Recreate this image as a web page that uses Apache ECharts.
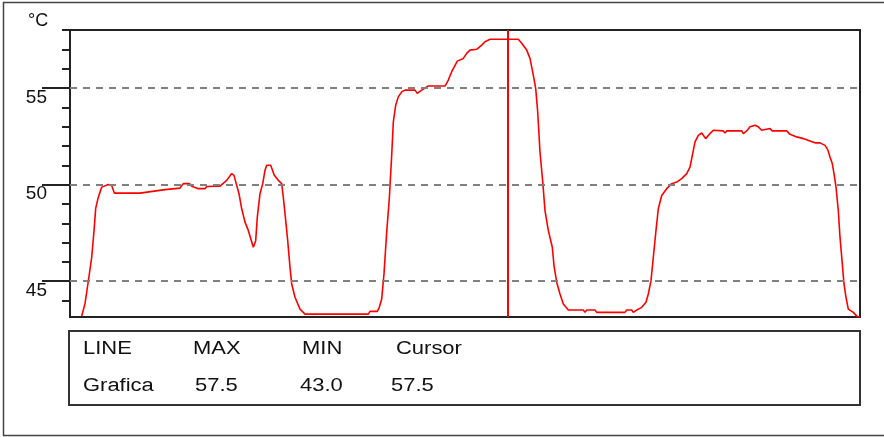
<!DOCTYPE html>
<html>
<head>
<meta charset="utf-8">
<script src="https://cdn.jsdelivr.net/npm/echarts@6/dist/echarts.min.js"></script>
<style>
html,body{margin:0;padding:0;background:#fff;}
#c{width:884px;height:437px;}
</style>
</head>
<body>
<div id="c"></div>
<script>
// sample position (arbitrary units along the recording) and temperature in °C
var sampleX = [11.7,15,18.3,21.7,24,25.7,28.3,31.7,38.3,41.7,44.3,70,71.7,95,96.7,110,113.3,119.3,121.7,128.3,135,136.7,150,156.7,161.7,164,166.7,169,171.7,175,178.3,183.3,185.7,187.3,190,192.7,195,196.7,200.7,204.3,208.3,211.7,213.3,215.7,217.7,220,221.7,225,230,235,298.3,300,307.3,309.3,311.7,314,316.7,319.3,321.7,323.3,325.7,328.3,331.7,335,345,347.3,351.7,358.3,375,378.3,381.7,387.3,393.3,396.7,400,406.7,411.7,415,420,448.3,451.7,456.7,460,463.3,465.7,467.7,470,472.8,475,478.3,482.3,484,486.7,490,493.3,498.3,513.3,515,516.7,525,526.7,555,556.7,561.7,563.3,566.7,571.7,576,578.3,581,583.3,586,588.3,591.7,596.7,601.7,606.7,611.7,616.7,620,622.7,625,628.3,631.7,635.7,640,643.3,653.3,655,656.7,671.7,673.3,676.7,680,685,688.3,691.7,693.3,700,702.3,716.7,720,726.7,733.3,740,745,750,755,757.7,760,762.3,764,766,768.3,770,772.3,774,776,778.3,783.3,787.3,790];
var tempC = [43.2,43.84,45.0,46.24,47.6,48.77,49.35,49.87,50.0,49.96,49.56,49.56,49.66,49.74,49.82,49.82,50.05,50.05,49.92,49.79,49.79,49.9,49.92,50.22,50.57,50.48,49.96,49.53,48.75,48.06,47.63,46.76,47.1,48.32,49.53,50.05,50.74,51.0,51.0,50.48,50.22,50.05,49.35,48.15,47.1,45.72,44.86,44.17,43.56,43.3,43.3,43.44,43.44,43.65,44.08,45.38,47.54,49.27,51.52,53.24,54.11,54.54,54.8,54.89,54.89,54.72,54.89,55.1,55.1,55.41,55.84,56.39,56.53,56.79,56.96,57.0,57.22,57.39,57.52,57.52,57.31,56.96,56.53,55.67,54.98,53.76,51.69,50.1,48.66,47.63,46.76,45.81,44.95,44.34,43.82,43.51,43.51,43.39,43.51,43.51,43.39,43.39,43.51,43.51,43.39,43.51,43.65,43.91,44.34,45.03,46.24,47.63,48.75,49.44,49.79,50.05,50.13,50.31,50.57,50.91,51.6,52.21,52.55,52.67,52.38,52.64,52.81,52.78,52.67,52.78,52.78,52.64,52.78,52.99,53.07,52.99,52.81,52.9,52.9,52.78,52.78,52.6,52.47,52.38,52.26,52.16,52.16,52.03,51.81,51.43,51.09,50.57,49.87,48.66,47.28,45.9,44.86,44.17,43.56,43.39,43.17,43.15];

var yMin = 43.15, yMax = 58;
var minorTicks = [44,46,47,48,49,51,52,53,54,56,57,58];
var majorTicks = [45,50,55];
var cursorX = 437.3;
var unitLabel = '°C';

var tableHeader = ['LINE','MAX','MIN','Cursor'];
var tableRow = ['Grafica','57.5','43.0','57.5'];

var headerX = [83,193,302,396];
var rowX = [83,195,300,391];

var chart = echarts.init(document.getElementById('c'), null, {renderer:'canvas'});

var seriesData = sampleX.map(function(x,i){return [x,tempC[i]];});

var txtFont = 'Liberation Sans, Arial, sans-serif';
var graphics = [
  {type:'rect', shape:{x:3.5,y:2.5,width:900,height:433}, style:{fill:'none',stroke:'#444',lineWidth:1.5}, z:0, silent:true},
  {type:'rect', shape:{x:69,y:331,width:791,height:74}, style:{fill:'none',stroke:'#333',lineWidth:2}, silent:true},
  {type:'text', x:28, y:21, style:{text:unitLabel, fill:'#111', font:'18px '+txtFont, textVerticalAlign:'middle'}, silent:true}
];
tableHeader.forEach(function(t,i){
  graphics.push({type:'text', x:headerX[i], y:349, scaleX:1.22, style:{text:t, fill:'#111', font:'18px '+txtFont, textVerticalAlign:'middle'}, silent:true});
});
tableRow.forEach(function(t,i){
  graphics.push({type:'text', x:rowX[i], y:386, scaleX:1.22, style:{text:t, fill:'#111', font:'18px '+txtFont, textVerticalAlign:'middle'}, silent:true});
});

var option = {
  animation:false,
  backgroundColor:'#fff',
  grid:{left:70, top:30, right:24, bottom:120, show:true, borderColor:'#222', borderWidth:2, backgroundColor:'transparent'},
  xAxis:{type:'value', min:0, max:790, show:true,
    axisLine:{show:true, lineStyle:{color:'#222', width:2}},
    axisTick:{show:false}, axisLabel:{show:false}, splitLine:{show:false}},
  yAxis:[
    {type:'value', min:yMin, max:yMax, position:'left',
      axisLine:{show:true, lineStyle:{color:'#222', width:2}},
      axisTick:{show:true, customValues:minorTicks, length:8, lineStyle:{color:'#222', width:2}},
      axisLabel:{show:false}, splitLine:{show:false}},
    {type:'value', min:yMin, max:yMax, position:'left',
      axisLine:{show:false},
      axisTick:{show:true, customValues:majorTicks, length:28, lineStyle:{color:'#222', width:2}},
      axisLabel:{show:true, customValues:majorTicks, margin:23, verticalAlign:'top', color:'#111', fontSize:19, fontFamily:txtFont},
      splitLine:{show:false}}
  ],
  series:[{
    type:'line', data:seriesData, showSymbol:false, symbol:'none',
    lineStyle:{color:'#ff0000', width:1.6},
    clip:true,
    markLine:{
      silent:true, symbol:'none', label:{show:false},
      data:majorTicks.map(function(v){return {yAxis:v, lineStyle:{color:'#808080', type:[7,6], width:2}};})
        .concat([{xAxis:cursorX, lineStyle:{color:'#ff0000', type:'solid', width:2}}])
    }
  }],
  graphic:graphics
};
chart.setOption(option);
</script>
</body>
</html>
